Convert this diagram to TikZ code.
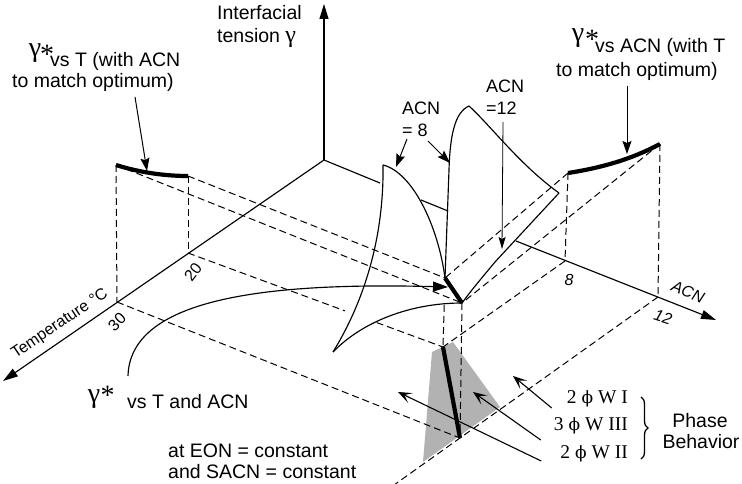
\documentclass[tikz,border=0pt]{standalone}
\usepackage{fontspec}
\setmainfont{Liberation Sans}
\newfontfamily\serifface{Liberation Serif}
\newfontfamily\phiface{DejaVu Serif}
\usetikzlibrary{arrows.meta,decorations.pathreplacing,calc}
\newcommand\gbig{\serifface\fontsize{28}{30}\selectfont}
\newcommand\gmid{\serifface\fontsize{24}{26}\selectfont}
\newcommand\phisym{{\phiface\fontsize{17}{20}\selectfont ϕ}}
\begin{document}
\begin{tikzpicture}[x=1pt,y=-1pt,
  ln/.style={line width=1.15pt},
  dsh/.style={line width=1pt, dash pattern=on 7pt off 4pt},
  thk/.style={line width=4.2pt},
  axarrow/.style={ln,-{Triangle[length=15pt,width=9pt]}},
  lblarrow/.style={line width=1pt,-{Stealth[length=13pt,width=9pt,inset=2pt]}},
  thinarrow/.style={line width=0.8pt,-{Stealth[length=12pt,width=7pt,inset=2pt]}},
  bigarrow/.style={ln,-{Triangle[length=15pt,width=10pt]}},
  pharrow/.style={line width=1.1pt,-{Stealth[length=14pt,width=11pt,inset=7pt]}},
  txt/.style={inner sep=0pt, font=\fontsize{19.5}{22}\selectfont},
  stxt/.style={inner sep=0pt, font=\fontsize{18}{20}\selectfont},
  axtxt/.style={inner sep=0pt, font=\fontsize{16}{18}\selectfont},
  itaxtxt/.style={inner sep=0pt, font=\fontsize{16}{18}\selectfont\itshape},
  ptxt/.style={inner sep=0pt, font=\serifface\fontsize{19.5}{22}\selectfont},
  gam/.style={inner sep=0pt, font=\gbig}]
\useasboundingbox (0,0) rectangle (742,484);

% key points
\coordinate (O) at (324,160);
\coordinate (Ztop) at (324,4);
\coordinate (Ttip) at (3,381);
\coordinate (t20) at (188,253);
\coordinate (t30) at (117,302);
\coordinate (a1) at (380,183);
\coordinate (a2) at (421,200);
\coordinate (a3) at (448,211);
\coordinate (a4) at (516,241);
\coordinate (Atip) at (716,320);
\coordinate (t8) at (565,261);
\coordinate (t12) at (658,297);
\coordinate (tt) at (445,278);
\coordinate (tb) at (462,303);
\coordinate (bt) at (443,347);
\coordinate (bb) at (460,438);
\coordinate (gl) at (116,165);
\coordinate (gr) at (188,176);
\coordinate (hl) at (568,173);
\coordinate (hr) at (660,144);
\coordinate (p8) at (383,165);
\coordinate (c8) at (333,352);
\coordinate (p12) at (469,106);
\coordinate (k12) at (559,193);
\coordinate (g1) at (432,352);
\coordinate (g2) at (453,342);
\coordinate (g3) at (500,407);
\coordinate (g4) at (423,462);

% shaded phase region
\fill[black!30] (g1) -- (g2) -- (g3) -- (g4) -- cycle;

% axes
\draw[axarrow] (O) -- (Ztop);
\draw[axarrow] (O) -- (Ttip);
\draw[ln] (O) -- (a1);
\draw[ln] (a2) -- (a3);
\draw[axarrow] (a4) -- (Atip);

% dashed projection lines
\draw[dsh] (gl) -- (t30);
\draw[dsh] (gr) -- (t20);
\draw[dsh] (gr) -- (tt);
\draw[dsh] (gl) -- (tb);
\draw[dsh] (t20) -- ($(t20)!0.615!(bt)$);
\draw[dsh] ($(t20)!0.74!(bt)$) -- (bt);
\draw[dsh] (t30) -- (bb);
\draw[dsh] (hl) -- (t8);
\draw[dsh] (hr) -- (t12);
\draw[dsh] (hl) -- (tt);
\draw[dsh] (hr) -- (tb);
\draw[dsh] (t8) -- (bt);
\draw[dsh] (t12) -- ($(t12)!1.33!(bb)$);
\draw[dsh] ($(tt)!0.39!(bt)$) -- (bt);
\draw[dsh] (tb) -- (bb);

% surfaces
\draw[ln] (p8) .. controls (412,172) and (438,225) .. (tt);
\draw[ln] (p8) .. controls (384,230) and (368,295) .. (c8);
\draw[ln] (c8) .. controls (362,322) and (410,303) .. (tb);
\draw[ln] (p12) .. controls (455,112) and (450,135) .. (449,170) -- (tt);
\draw[ln] (p12) .. controls (490,125) and (520,165) .. (k12);
\draw[ln] (k12) -- (495,262) .. controls (480,280) and (470,292) .. (tb);

% optimum curves
\draw[thk] (tt) -- (tb);
\draw[thk] (bt) -- (bb);
\draw[thk] (gl) .. controls (135,171) and (160,176) .. (gr);
\draw[thk] (hl) .. controls (600,168) and (630,160) .. (hr);

% labels
\node[gam, anchor=base] (ga) at (35,56.5) {γ};
\node[gam, anchor=base] (sa) at (47,64) {*};
\node[txt, anchor=base west] (la1) at (50,67) {vs T (with ACN};
\node[txt, anchor=base west] (la2) at (12,88) {to match optimum)};

\node[gam, anchor=base] (gb) at (578,41.5) {γ};
\node[gam, anchor=base] (sb) at (592,49) {*};
\node[txt, anchor=base west] (lb1) at (595,53) {vs ACN (with T};
\node[txt, anchor=base west] (lb2) at (556,77) {to match optimum)};

\node[gam, anchor=base] (gc) at (94,402) {γ};
\node[gam, anchor=base] (sc) at (107.5,404) {*};
\node[txt, anchor=base west] (lc) at (127,408) {vs T and ACN};
\node[txt, anchor=base west] (ld1) at (168,457) {at EON = constant};
\node[txt, anchor=base west] (ld2) at (168,478) {and SACN = constant};

\node[txt, anchor=base west] (it1) at (217,20) {Interfacial};
\node[txt, anchor=base west] (it2) at (217,43) {tension {\gmid γ}};

\node[stxt, anchor=base west] (n8a) at (402,115) {ACN};
\node[stxt, anchor=base west] (n8b) at (402,137) {= 8};
\node[stxt, anchor=base west] (n12a) at (486,93) {ACN};
\node[stxt, anchor=base west] (n12b) at (486,115) {=12};

\node[axtxt, rotate=34] (tlab) at (60,324) {Temperature °C};
\node[axtxt, rotate=45] (l30) at (117,322) {30};
\node[axtxt, rotate=52] (l20) at (193,272) {20};
\node[itaxtxt] (l8) at (569,280) {8};
\node[itaxtxt, rotate=-18] (l12) at (663,317) {12};
\node[itaxtxt, rotate=-22] (lacn) at (688,292) {ACN};

\node[ptxt, anchor=base east] (ph1) at (628,403) {2 \phisym\ W I};
\node[ptxt, anchor=base east] (ph2) at (628,430) {3 \phisym\ W III};
\node[ptxt, anchor=base east] (ph3) at (628,458) {2 \phisym\ W II};
\node[txt, anchor=base] (pb1) at (700,427) {Phase};
\node[txt, anchor=base] (pb2) at (701,448) {Behavior};

% label arrows
\coordinate (aa0) at (135,97);  \coordinate (aa1) at (147,171);
\coordinate (ab0) at (627,86);  \coordinate (ab1) at (627,154);
\coordinate (ac0) at (407,139); \coordinate (ac1) at (396,167);
\coordinate (ad0) at (428,141); \coordinate (ad1) at (450,163);
\coordinate (ae0) at (503,122); \coordinate (ae1) at (502,249);
\draw[lblarrow] (aa0) -- (aa1);
\draw[lblarrow] (ab0) -- (ab1);
\draw[lblarrow] (ac0) -- (ac1);
\draw[lblarrow] (ad0) -- (ad1);
\draw[thinarrow] (ae0) -- (ae1);

% main curved arrow
\coordinate (m0) at (128,376);
\coordinate (m1) at (448,287);
\draw[bigarrow] (m0) .. controls (130,300) and (260,282) .. (m1);

% phase arrows
\coordinate (q1) at (513,376);
\coordinate (q2) at (473,392);
\coordinate (q3) at (398,392);
\draw[pharrow] ([xshift=-15pt,yshift=-5pt]ph1.base west) -- (q1);
\draw[pharrow] ([xshift=-13pt,yshift=-10pt]ph2.base west) -- (q2);
\draw[pharrow] ([xshift=-19pt,yshift=-3pt]ph3.base west) -- (q3);

% brace
\draw[line width=1.3pt, decorate, decoration={brace, amplitude=7pt}] (641,397) -- (641,459);
\end{tikzpicture}
\end{document}
